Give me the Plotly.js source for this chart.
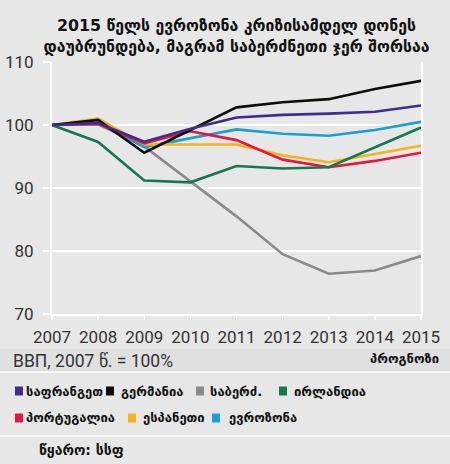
<!DOCTYPE html>
<html>
<head>
<meta charset="utf-8">
<script src="https://cdn.plot.ly/plotly-3.0.1.min.js"></script>
<style>
html,body{margin:0;padding:0;background:#e7e7e7;}
#chart{width:450px;height:464px;}
</style>
</head>
<body>
<div id="chart"></div>
<script>
// ---- data ----
const years = [2007, 2008, 2009, 2010, 2011, 2012, 2013, 2014, 2015];
const yTicks = [70, 80, 90, 100, 110];

const seriesNames = ["საფრანგეთი", "გერმანია", "საბერძ.", "ირლანდია", "პორტუგალია", "ესპანეთი", "ევროზონა"];
const legendLabels = ["საფრანგეთ", "გერმანია", "საბერძ.", "ირლანდია", "პორტუგალია", "ესპანეთი", "ევროზონა"];
const seriesColors = ["#3f2d8c", "#0d0d0d", "#8a8a8a", "#16784f", "#e3173e", "#f6b21b", "#199fd2"];

const france   = [100, 100.3, 97.35, 99.4, 101.2, 101.6, 101.8, 102.1, 103.1];
const germany  = [100, 100.8, 95.6, 99.2, 102.8, 103.6, 104.1, 105.7, 107.0];
const greece   = [100, 100.1, 96.6, 91.1, 85.5, 79.5, 76.4, 76.9, 79.2];
const ireland  = [100, 97.3, 91.2, 90.9, 93.5, 93.1, 93.3, 96.5, 99.6];
const portugal = [100, 100.2, 97.1, 99.0, 97.6, 94.5, 93.3, 94.3, 95.6];
const spain    = [100, 101.0, 96.9, 96.9, 96.9, 95.2, 94.1, 95.4, 96.7];
const eurozone = [100, 100.4, 96.5, 97.9, 99.3, 98.6, 98.3, 99.2, 100.5];

const seriesValues = [france, germany, greece, ireland, portugal, spain, eurozone];

const titleText = "2015 წელს ევროზონა კრიზისამდელ დონეს<br>დაუბრუნდება, მაგრამ საბერძნეთი ჯერ შორსაა";
const unitText = "ВВП, 2007 წ. = 100%";
const forecastText = "პროგნოზი";
const sourceText = "წყარო: სსფ";

// ---- layout helpers (pixel -> paper) ----
const W = 450, H = 464;
const mL = 52, mR = 29, mT = 62, mB = 150;
const pw = W - mL - mR, ph = H - mT - mB;
const px = x => (x - mL) / pw;
const py = y => (H - mB - y) / ph;

// drawing order (back to front)
const drawOrder = [2, 6, 5, 4, 3, 1, 0];
const traces = drawOrder.map(i => ({
  type: "scatter",
  mode: "lines",
  x: years,
  y: seriesValues[i],
  name: seriesNames[i],
  line: {color: seriesColors[i], width: 2.6},
  hoverinfo: "skip",
  showlegend: false
}));

// legend placement (pixel positions of each item: square left, text left, row centre)
const legendPos = [
  [15, 24, 391], [106, 119, 391], [196, 208, 391], [279, 292, 391],
  [15, 24, 418], [128, 141, 418], [212, 227, 418]
];

const gFont = "DejaVu Sans, sans-serif";
const nFont = "Roboto, Liberation Sans, sans-serif";

const annotations = [];
const shapes = [];

// band behind unit line
shapes.push({type: "rect", xref: "paper", yref: "paper",
  x0: px(0), x1: px(W), y0: py(371), y1: py(349),
  fillcolor: "#e0e0e0", line: {width: 0}, layer: "below"});
// separators
[372, 436].forEach(yy => shapes.push({type: "line", xref: "paper", yref: "paper",
  x0: px(0), x1: px(W), y0: py(yy), y1: py(yy), line: {color: "#f7f7f7", width: 2}}));

legendLabels.forEach((lab, i) => {
  const [sx, tx, ry] = legendPos[i];
  shapes.push({type: "rect", xref: "paper", yref: "paper",
    x0: px(sx), x1: px(sx + 8), y0: py(ry + 4.5), y1: py(ry - 4.5),
    fillcolor: seriesColors[i], line: {width: 0}});
  annotations.push({text: lab, xref: "paper", yref: "paper", x: px(tx), y: py(ry),
    xanchor: "left", yanchor: "middle", showarrow: false,
    font: {family: gFont, size: 13, color: "#111", weight: "bold"}});
});

annotations.push({text: unitText, xref: "paper", yref: "paper", x: px(11), y: py(361),
  xanchor: "left", yanchor: "middle", showarrow: false,
  font: {family: nFont, size: 17.5, color: "#333"}});
annotations.push({text: forecastText, xref: "paper", yref: "paper", x: px(441), y: py(358),
  xanchor: "right", yanchor: "middle", showarrow: false,
  font: {family: gFont, size: 13, color: "#111", weight: "bold"}});
annotations.push({text: sourceText, xref: "paper", yref: "paper", x: px(37), y: py(450),
  xanchor: "left", yanchor: "middle", showarrow: false,
  font: {family: gFont, size: 14, color: "#111", weight: "bold"}});

const layout = {
  width: W, height: H,
  margin: {l: mL, r: mR, t: mT, b: mB},
  paper_bgcolor: "#e7e7e7",
  plot_bgcolor: "#e7e7e7",
  title: {text: titleText, x: 0.5, xanchor: "center", xref: "paper",
    y: 1 - 31 / H, yref: "container", yanchor: "middle",
    font: {family: gFont, size: 15.8, color: "#111", weight: "bold"}},
  xaxis: {
    range: [2007, 2015], tickvals: years, ticktext: years.map(String),
    showgrid: false, zeroline: false,
    showline: true, linecolor: "#ffffff", linewidth: 2,
    ticks: "outside", ticklen: 4, tickwidth: 1.5, tickcolor: "#ffffff",
    tickfont: {family: nFont, size: 17, color: "#333"},
    ticklabelstandoff: 3, fixedrange: true
  },
  yaxis: {
    range: [70, 110], tickvals: yTicks,
    showgrid: true, gridcolor: "#ffffff", gridwidth: 2,
    zeroline: false,
    showline: true, mirror: true, linecolor: "#ffffff", linewidth: 2,
    ticks: "outside", ticklen: 7, tickwidth: 2, tickcolor: "#ffffff",
    tickfont: {family: nFont, size: 17, color: "#333"},
    ticklabelstandoff: 6, fixedrange: true
  },
  shapes: shapes,
  annotations: annotations,
  showlegend: false
};

Plotly.newPlot("chart", traces, layout, {displayModeBar: false, staticPlot: true});
</script>
</body>
</html>
